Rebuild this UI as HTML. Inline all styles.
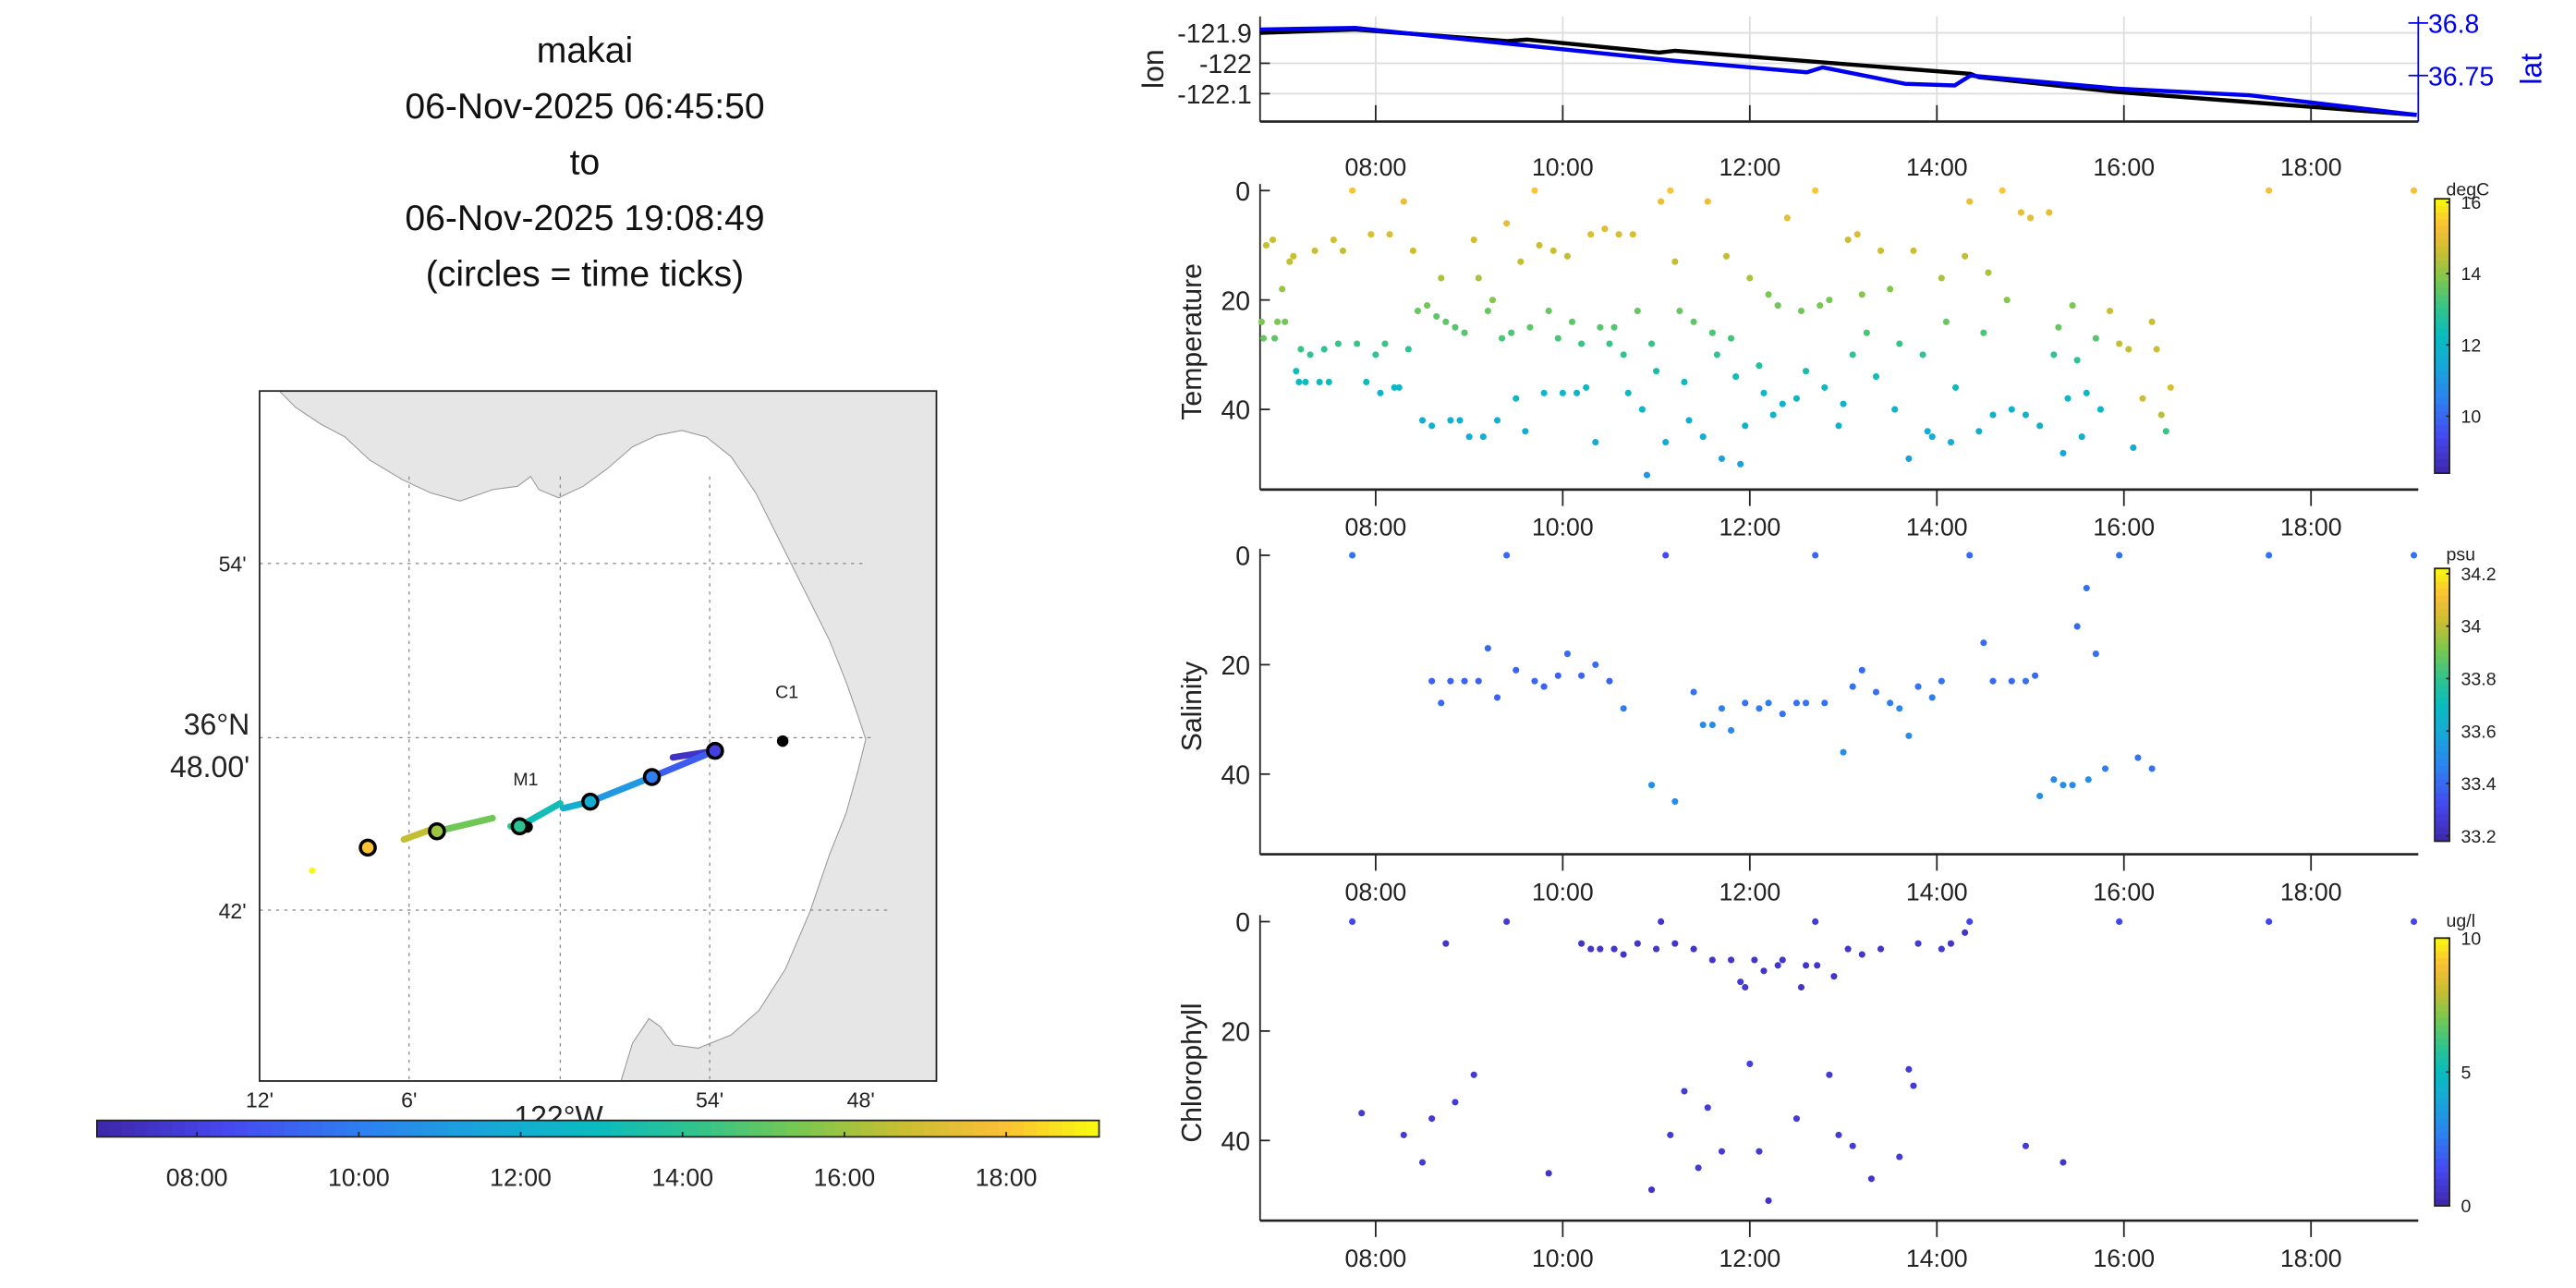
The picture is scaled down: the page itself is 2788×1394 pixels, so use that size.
<!DOCTYPE html>
<html><head><meta charset="utf-8"><style>
html,body{margin:0;padding:0;background:#fff;}
svg{display:block;font-family:"Liberation Sans","DejaVu Sans",sans-serif;}
</style></head><body>
<svg id="fig" width="2788" height="1394" viewBox="0 0 1568 784" xmlns="http://www.w3.org/2000/svg">
<g font-size="22" text-anchor="middle" fill="#111">
<text x="356" y="38">makai</text><text x="356" y="72">06-Nov-2025 06:45:50</text><text x="356" y="106">to</text><text x="356" y="140">06-Nov-2025 19:08:49</text><text x="356" y="174">(circles = time ticks)</text>
</g>
</svg>
<script>
// ---------- DATA ----------
const lonT=[6.764,7.78,9.41,9.62,11.03,11.2,14.36,14.45,15.94,19.13];
const lonV=[-121.9,-121.889,-121.927,-121.922,-121.965,-121.959,-122.035,-122.046,-122.095,-122.170];
const latT=[6.764,7.78,11.03,11.2,12.61,12.78,13.66,14.19,14.36,15.94,17.34,19.13];
const latV=[36.7938,36.7953,36.7656,36.764,36.7531,36.7578,36.7422,36.7406,36.75,36.7375,36.7313,36.7125];
const tempT=[6.78,6.8,6.83,6.9,6.92,6.95,7.0,7.03,7.08,7.12,
7.15,7.18,7.2,7.25,7.3,7.35,7.4,7.45,7.5,7.55,
7.6,7.65,7.75,7.8,7.9,7.95,8.0,8.05,8.1,8.15,
8.2,8.25,8.3,8.35,8.4,8.45,8.5,8.55,8.6,8.65,
8.7,8.75,8.8,8.85,8.9,8.95,9.0,9.05,9.1,9.15,
9.2,9.25,9.3,9.35,9.4,9.45,9.5,9.55,9.6,9.65,
9.7,9.75,9.8,9.85,9.9,9.95,10.0,10.05,10.1,10.15,
10.2,10.25,10.3,10.35,10.4,10.45,10.5,10.55,10.6,10.65,
10.7,10.75,10.8,10.85,10.9,10.95,11.0,11.05,11.1,11.15,
11.2,11.25,11.3,11.35,11.4,11.5,11.55,11.6,11.65,11.7,
11.75,11.8,11.85,11.9,11.95,12.0,12.1,12.15,12.2,12.25,
12.3,12.35,12.4,12.5,12.55,12.6,12.7,12.75,12.8,12.85,
12.95,13.0,13.05,13.1,13.15,13.2,13.25,13.35,13.4,13.5,
13.55,13.6,13.7,13.75,13.85,13.9,13.95,14.05,14.1,14.15,
14.2,14.3,14.35,14.45,14.5,14.55,14.6,14.7,14.75,14.8,
14.9,14.95,15.0,15.1,15.2,15.25,15.3,15.35,15.4,15.45,
15.5,15.55,15.6,15.7,15.75,15.85,15.95,16.05,16.1,16.2,
16.3,16.35,16.4,16.45,16.5,17.55,19.1];
const tempD=[24,27,10,9,27,24,18,24,13,12,
33,35,29,35,30,11,35,29,35,9,
28,11,0,28,35,8,30,37,28,8,
36,36,2,29,11,22,42,21,43,23,
16,24,42,25,42,26,45,9,16,45,
22,20,42,27,6,26,38,13,44,25,
0,10,37,22,11,27,37,12,24,37,
28,36,8,46,25,7,28,25,8,30,
37,8,22,40,52,28,33,2,46,0,
13,22,35,42,24,45,2,26,30,49,
12,27,34,50,43,16,32,37,19,41,
21,39,5,38,22,33,0,21,36,20,
43,39,9,30,8,19,26,34,11,18,
40,28,49,11,30,44,45,16,24,46,
36,12,2,44,26,15,41,0,20,40,
4,41,5,43,4,30,25,48,38,21,
31,45,37,27,40,22,28,29,47,38,
24,29,41,44,36,0,0];
const tempV=[13.8,13.6,14.6,14.6,13.5,13.8,14.1,13.7,14.5,14.6,
12.3,12.2,13.1,12.2,13.0,14.6,12.2,13.0,12.2,14.7,
13.1,14.5,15.4,13.1,12.2,14.8,13.0,12.0,13.1,14.8,
12.1,12.1,15.1,13.0,14.6,13.6,11.8,13.7,11.8,13.5,
14.3,13.5,11.8,13.4,11.8,13.4,11.6,14.7,14.3,11.6,
13.6,13.9,11.8,13.3,15.0,13.3,12.0,14.5,11.7,13.5,
15.4,14.6,12.0,13.6,14.6,13.3,12.0,14.5,13.5,12.0,
13.1,12.1,14.8,11.6,13.4,14.9,13.1,13.4,14.8,13.0,
12.0,14.8,13.6,11.9,11.0,13.1,12.5,15.1,11.6,15.4,
14.5,13.6,12.2,11.8,13.5,11.6,15.1,13.3,13.0,11.3,
14.5,13.2,12.4,11.3,11.8,14.3,12.7,12.0,13.8,11.9,
13.7,11.9,15.0,11.9,13.7,12.5,15.4,13.8,12.2,13.8,
11.8,11.9,14.6,13.0,14.8,13.9,13.3,12.4,14.6,13.9,
11.9,13.1,11.2,14.6,13.0,11.7,11.6,14.3,13.6,11.6,
12.2,14.5,15.1,11.7,13.3,14.3,11.8,15.4,13.9,11.8,
15.0,11.8,15.0,11.8,15.0,13.0,13.6,11.4,12.0,13.8,
12.9,11.7,12.1,13.4,11.9,14.6,14.5,14.5,11.5,14.6,
14.6,14.6,14.4,13.1,14.8,15.3,15.3];
const salT=[7.75,8.6,8.7,8.8,8.95,9.1,9.2,9.3,9.4,9.5,9.7,9.8,9.95,10.05,10.2,10.35,10.5,10.65,10.95,11.1,11.2,11.4,11.5,11.6,11.7,11.8,11.95,12.1,12.2,12.35,12.5,12.6,12.7,12.8,13.0,13.1,13.2,13.35,13.5,13.6,13.7,13.8,13.95,14.05,14.35,14.5,14.6,14.8,14.95,15.05,15.1,15.25,15.35,15.45,15.5,15.6,15.62,15.7,15.8,15.95,16.15,16.3,17.55,19.1];
const salD=[0,23,27,23,23,23,17,26,0,21,23,24,22,18,22,20,23,28,42,0,45,25,31,31,28,32,27,28,27,29,27,27,0,27,36,24,21,25,27,28,33,24,26,23,0,16,23,23,23,22,44,41,42,42,13,6,41,18,39,0,37,39,0,0];
const salV=[33.42,33.38,33.4,33.38,33.38,33.38,33.4,33.38,33.4,33.38,33.4,33.38,33.38,33.4,33.38,33.4,33.38,33.45,33.5,33.32,33.5,33.42,33.5,33.5,33.45,33.48,33.42,33.45,33.45,33.42,33.42,33.42,33.4,33.42,33.5,33.42,33.4,33.42,33.45,33.48,33.48,33.42,33.45,33.42,33.4,33.4,33.4,33.4,33.42,33.4,33.5,33.48,33.5,33.5,33.4,33.42,33.5,33.42,33.45,33.42,33.42,33.42,33.42,33.42];
const chlT=[7.75,7.85,8.3,8.5,8.6,8.75,8.85,9.05,9.4,9.85,10.2,10.3,10.4,10.55,10.65,10.8,10.95,11.0,11.05,11.15,11.2,11.3,11.4,11.45,11.55,11.6,11.7,11.8,11.9,11.95,12.0,12.05,12.1,12.15,12.2,12.3,12.35,12.5,12.55,12.6,12.7,12.72,12.85,12.9,12.95,13.05,13.1,13.2,13.3,13.4,13.6,13.7,13.75,13.8,14.05,14.15,14.3,14.35,14.95,15.35,15.95,17.55,19.1];
const chlD=[0,35,39,44,36,4,33,28,0,46,4,5,5,5,6,4,49,5,0,39,4,31,5,45,34,7,42,7,11,12,26,7,42,9,51,8,7,36,12,8,0,8,28,10,39,5,41,6,47,5,43,27,30,4,5,4,2,0,41,44,0,0,0];
const chlV=[1.2,0.8,0.8,0.8,0.8,0.6,0.8,0.8,0.8,0.6,0.6,0.6,0.6,0.6,0.6,0.6,0.5,0.6,0.6,0.8,0.6,0.8,0.6,0.8,0.8,0.6,0.8,0.6,0.8,0.8,1.0,0.6,0.8,0.6,0.5,0.6,0.6,0.8,0.6,0.6,0.8,0.6,0.8,0.6,0.8,0.6,0.8,0.6,0.6,0.6,0.8,0.8,0.8,0.8,0.8,0.6,0.6,1.2,0.8,0.6,1.2,1.2,1.2];
const timeTicks=[8,10,12,14,16,18];
const timeLabels=["08:00","10:00","12:00","14:00","16:00","18:00"];
const trackLon=[-121.925,-121.897,-121.939,-121.980,-121.998,-122.000,-122.027,-122.033,-122.045,-122.082,-122.086,-122.104];
const trackLat=[36.7886,36.7924,36.7773,36.7631,36.7593,36.7621,36.7489,36.7489,36.7536,36.746,36.747,36.7413];
const trackTime=[6.8,8.0,10.0,12.0,12.3,12.35,14.0,14.2,14.6,16.0,16.2,17.0];
const trackBreaks=[4,7];
const circleLon=[-122.128,-122.082,-122.027,-121.980,-121.939,-121.897];
const circleLat=[36.7366,36.746,36.7489,36.7631,36.7773,36.7924];
const circleTime=[18,16,14,12,10,8];

// ---------- helpers ----------
const NS="http://www.w3.org/2000/svg";
const svg=document.getElementById('fig');
function mk(tag,attrs,parent){const e=document.createElementNS(NS,tag);for(const k in attrs)e.setAttribute(k,attrs[k]);(parent||svg).appendChild(e);return e;}
function txt(x,y,s,size,anchor,fill,parent){const e=mk('text',{x:x,y:y,'font-size':size,'text-anchor':anchor||'start',fill:fill||'#222'},parent);e.textContent=s;return e;}
const stops=[[0,[62,38,168]],[0.13,[70,72,240]],[0.27,[45,130,240]],[0.4,[22,170,215]],[0.5,[10,188,190]],[0.6,[50,195,140]],[0.7,[120,200,80]],[0.8,[200,190,50]],[0.9,[250,190,55]],[1,[249,251,14]]];
function parula(f){f=Math.max(0,Math.min(1,f));for(let i=1;i<stops.length;i++){if(f<=stops[i][0]){const a=stops[i-1],b=stops[i];const t=(f-a[0])/(b[0]-a[0]);const c=a[1].map((v,j)=>Math.round(v+(b[1][j]-v)*t));return `rgb(${c[0]},${c[1]},${c[2]})`;}}return 'rgb(249,251,14)';}
const T0=6.764,T1=19.147;
function tc(t){return parula((t-T0)/(T1-T0));}
function xT(h){return 767+(h-T0)/(T1-T0)*705;}

// ---------- top lon/lat panel ----------
const gTop=mk('g',{});


function yLon(v){return 20+(-121.9-v)*185;}
function yLat(v){return 14+(36.8-v)*640;}
[-121.9,-122,-122.1].forEach((v,i)=>{mk('line',{x1:767,x2:1472,y1:yLon(v),y2:yLon(v),stroke:'#ddd','stroke-width':1},gTop);
 mk('line',{x1:767,x2:773,y1:yLon(v),y2:yLon(v),stroke:'#222'},gTop);
 txt(762,yLon(v)+6,['-121.9','-122','-122.1'][i],16,'end','#222',gTop);});
timeTicks.forEach((h,i)=>{mk('line',{x1:xT(h),x2:xT(h),y1:10,y2:74,stroke:'#ddd'},gTop);
 mk('line',{x1:xT(h),x2:xT(h),y1:64,y2:74,stroke:'#222'},gTop);
 txt(xT(h),107,timeLabels[i],15,'middle','#222',gTop);});
mk('line',{x1:767,x2:767,y1:10,y2:74,stroke:'#222'},gTop);
mk('line',{x1:767,x2:1472,y1:74,y2:74,stroke:'#222','stroke-width':1.5},gTop);
mk('line',{x1:1472,x2:1472,y1:10,y2:74,stroke:'#0000ee','stroke-width':1},gTop);
[[36.8,'36.8'],[36.75,'36.75']].forEach(a=>{mk('line',{x1:1466,x2:1478,y1:yLat(a[0]),y2:yLat(a[0]),stroke:'#0000ee'},gTop);txt(1478,yLat(a[0])+6,a[1],16,'start','#0000ee',gTop);});
const latLab=txt(1547,42,'lat',18,'middle','#0000ee',gTop);latLab.setAttribute('transform','rotate(-90 1547 42)');
const lonLab=txt(708,42,'lon',18,'middle','#222',gTop);lonLab.setAttribute('transform','rotate(-90 708 42)');
txt(1358,120,'Nov 06, 2025',14,'start','#222',gTop);
const lonLine=mk('polyline',{points:lonT.map((t,i)=>xT(t)+','+yLon(lonV[i])).join(' '),fill:'none',stroke:'#000','stroke-width':2.5},gTop);

const latLine=mk('polyline',{points:latT.map((t,i)=>xT(t)+','+yLat(latV[i])).join(' '),fill:'none',stroke:'#0000ee','stroke-width':2.5},gTop);


// ---------- scatter panels ----------
function panel(name,label,top,T,D,V,vmin,vmax,cbTicks,unit,cbTop,cbBot){
 const g=mk('g',{});
 
 
 mk('rect',{x:767,y:top-8,width:705,height:192,fill:'#fff'},g);
 const y0=top, k=3.33, bottom=top+182;
 function yD(d){return y0+d*k;}
 [0,20,40].forEach(v=>{mk('line',{x1:767,x2:773,y1:yD(v),y2:yD(v),stroke:'#222'},g);txt(761,yD(v)+6,String(v),16,'end','#222',g);});
 mk('line',{x1:767,x2:767,y1:top-4,y2:bottom,stroke:'#222'},g);
 mk('line',{x1:767,x2:1472,y1:bottom,y2:bottom,stroke:'#222','stroke-width':1.5},g);
 timeTicks.forEach((h,i)=>{mk('line',{x1:xT(h),x2:xT(h),y1:bottom,y2:bottom+10,stroke:'#222'},g);txt(xT(h),bottom+28,timeLabels[i],15,'middle','#222',g);});
 const yl=txt(731,top+92,label,17,'middle','#222',g);yl.setAttribute('transform',`rotate(-90 731 ${top+92})`);
 T.forEach((t,i)=>{const c=mk('circle',{cx:xT(t),cy:yD(D[i]),r:2,fill:parula((V[i]-vmin)/(vmax-vmin))},g);
  });
 const cb=mk('g',{},g);
 
 
 const n=40,h=(cbBot-cbTop)/n;
 for(let i=0;i<n;i++)mk('rect',{x:1482,y:cbTop+i*h,width:9,height:h+0.5,fill:parula(1-(i+0.5)/n)},cb);
 mk('rect',{x:1482,y:cbTop,width:9,height:cbBot-cbTop,fill:'none',stroke:'#222','stroke-width':1},cb);
 cbTicks.forEach(v=>{const y=cbBot-(v-vmin)/(vmax-vmin)*(cbBot-cbTop);mk('line',{x1:1489,x2:1491,y1:y,y2:y,stroke:'#222'},cb);txt(1498,y+4,String(v),11,'start','#222',cb);});
 txt(1489,top+3,unit,11,'start','#222',cb);
}
panel('temperature','Temperature',116,tempT,tempD,tempV,8.4,16.1,[10,12,14,16],'degC',121,288);
panel('salinity','Salinity',338,salT,salD,salV,33.18,34.22,[33.2,33.4,33.6,33.8,34,34.2],'psu',346,512);
panel('chlorophyll','Chlorophyll',561,chlT,chlD,chlV,0,10,[0,5,10],'ug/l',571,734);

// ---------- map ----------
const gm=mk('g',{});


function mx(lon){return 158+(lon+122.2)*915;}
function my(lat){return 449-(lat-36.8)*1056;}
mk('rect',{x:158,y:238,width:412,height:420,fill:'#fff'},gm);
const land=mk('polygon',{points:'170,238 180,248 195,258 210,266 225,280 245,292 262,300 280,305 300,298 315,296 323,290 328,298 340,303 355,296 370,285 385,272 400,265 415,262 430,266 445,278 460,300 475,330 490,360 505,390 515,415 522,435 527,450 522,470 515,495 505,520 493,555 478,590 462,615 445,630 425,638 410,636 402,625 395,620 385,635 378,658 570,658 570,238',fill:'#e6e6e6',stroke:'#999','stroke-width':0.6},gm);

[249,341,432].forEach(x=>mk('line',{x1:x,x2:x,y1:290,y2:658,stroke:'#888','stroke-dasharray':'2,3','stroke-width':0.7},gm));
[[343,525],[449,530],[554,540]].forEach(a=>mk('line',{x1:158,x2:a[1],y1:a[0],y2:a[0],stroke:'#888','stroke-dasharray':'2,3','stroke-width':0.7},gm));
mk('rect',{x:158,y:238,width:412,height:420,fill:'none',stroke:'#222','stroke-width':1},gm);
txt(150,348,"54'",13,'end','#222',gm);txt(150,559,"42'",13,'end','#222',gm);
txt(152,447,'36°N',18,'end','#222',gm);txt(152,473,"48.00'",18,'end','#222',gm);
[[158,"12'"],[249,"6'"],[432,"54'"],[524,"48'"]].forEach(a=>txt(a[0],674,a[1],13,'middle','#222',gm));
txt(340,686,'122°W',18,'middle','#222',gm);
for(let i=0;i<trackLon.length-1;i++){
 if(trackBreaks.includes(i))continue;
 const s=mk('line',{x1:mx(trackLon[i]),y1:my(trackLat[i]),x2:mx(trackLon[i+1]),y2:my(trackLat[i+1]),stroke:tc((trackTime[i]+trackTime[i+1])/2),'stroke-width':4,'stroke-linecap':'round'},gm);
 
}
mk('circle',{cx:mx(-122.165),cy:my(36.7233),r:2,fill:tc(19.1)},gm);
const m1=mk('circle',{cx:mx(-122.022),cy:my(36.7485),r:3.5,fill:'#000'},gm);
const c1=mk('circle',{cx:mx(-121.852),cy:my(36.798),r:3.5,fill:'#000'},gm);
txt(320,478,'M1',11,'middle','#222',gm);txt(479,425,'C1',11,'middle','#222',gm);
circleLon.forEach((lo,i)=>{const c=mk('circle',{cx:mx(lo),cy:my(circleLat[i]),r:4.5,fill:tc(circleTime[i]),stroke:'#000','stroke-width':2},gm);
 });
// horizontal colorbar
const hcb=mk('g',{});


for(let i=0;i<80;i++)mk('rect',{x:59+i*610/80,y:682,width:610/80+0.5,height:10,fill:parula((i+0.5)/80)},hcb);
mk('rect',{x:59,y:682,width:610,height:10,fill:'none',stroke:'#222','stroke-width':1},hcb);
timeTicks.forEach((h,i)=>{const x=59+(h-T0)/(T1-T0)*610;mk('line',{x1:x,x2:x,y1:689,y2:692,stroke:'#222'},hcb);txt(x,722,timeLabels[i],15,'middle','#222',hcb);});
</script>
</body></html>
